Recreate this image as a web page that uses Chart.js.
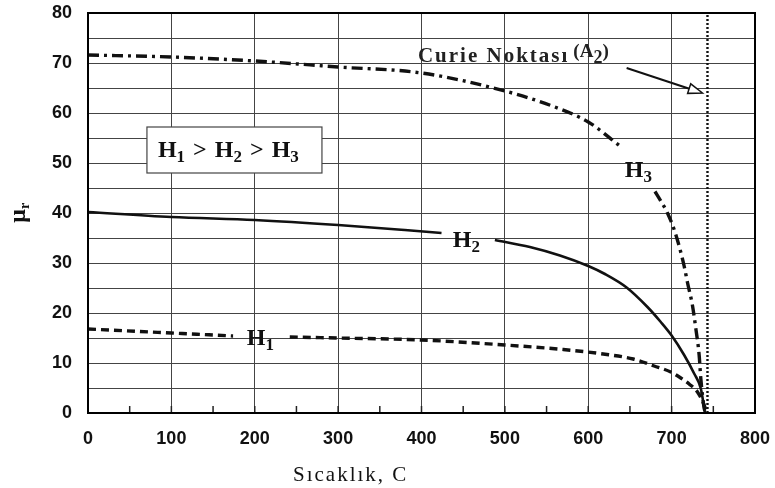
<!DOCTYPE html>
<html><head><meta charset="utf-8">
<script src="https://cdn.jsdelivr.net/npm/chart.js@4/dist/chart.umd.min.js"></script>
<style>html,body{margin:0;padding:0;background:#fff;}canvas{display:block;}</style>
</head><body>
<canvas id="c" width="775" height="488"></canvas>
<script>
const xTicks = [0,100,200,300,400,500,600,700,800];
const yTicks = [0,10,20,30,40,50,60,70,80];
const h3Temps  = [0,100,200,300,400,500,560,600,638,660,680,687,695,703,709,715,719,725,729,733,735,739,741];
const h3Values = [71.6,71.2,70.4,69.2,68,64.4,61.2,58.2,53.4,null,44.3,42.4,40,36.7,33.4,29.4,26.1,21.5,16.9,11.6,6.9,1,0];
const h2Temps  = [0,100,200,300,380,424,456,488,530,566,600,620,646,671,687,700,715,727,735,740];
const h2Values = [40.2,39.2,38.6,37.6,36.6,36,null,34.6,33.2,31.5,29.4,27.8,25.1,21.2,18.2,15.5,11.6,7.9,4.9,0];
const h1Temps  = [0,100,174,210,242,300,400,500,570,618,654,679,699,711,721,731,739,742];
const h1Values = [16.8,16,15.4,null,15.2,15,14.6,13.6,12.7,11.8,10.8,9.4,8.2,7,5.8,4.2,1.6,0];
const curieTemp = 743;
const curieRange = [0,80];
const seriesNames = ['H1','H2','H3'];

const toPts = (xs, ys) => xs.map((x,i)=>({x:x,y:ys[i]}));

const annot = {
  id:'annot',
  beforeInit(chart){ chart.ctx.letterSpacing = '1px'; },
  afterDraw(chart){
    const ctx = chart.ctx, xs = chart.scales.x, ys = chart.scales.y;
    const a = chart.chartArea;
    ctx.save();
    ctx.letterSpacing = '0px';
    // minor tick marks along bottom axis (every 50)
    ctx.strokeStyle = '#222'; ctx.lineWidth = 1.5;
    for (let v = 50; v < 800; v += 50) {
      const px = xs.getPixelForValue(v);
      ctx.beginPath(); ctx.moveTo(px, a.bottom); ctx.lineTo(px, a.bottom - 7); ctx.stroke();
    }
    // frame
    ctx.strokeStyle = '#000'; ctx.lineWidth = 2;
    ctx.strokeRect(a.left, a.top, a.right - a.left, a.bottom - a.top);

    const P = (x,y)=>[xs.getPixelForValue(x), ys.getPixelForValue(y)];
    const sub = (base, s, x, y, size) => {
      ctx.font = 'bold ' + size + 'px "Liberation Serif"';
      ctx.textBaseline = 'alphabetic'; ctx.textAlign = 'left';
      ctx.fillText(base, x, y);
      const w = ctx.measureText(base).width;
      ctx.font = 'bold ' + Math.round(size*0.7) + 'px "Liberation Serif"';
      ctx.fillText(s, x + w, y + size*0.2);
      return w + ctx.measureText(s).width;
    };
    ctx.fillStyle = '#111';
    // series labels
    let p = P(190.4,13.6); sub('H', '1', p[0], p[1], 24);
    p = P(437.6,33.2); sub('H', '2', p[0], p[1], 24);
    p = P(643.9,47.2); sub('H', '3', p[0], p[1], 24);

    // box "H1 > H2 > H3"
    const b0 = P(70.7,57.2), b1 = P(280.6,48);
    ctx.fillStyle = '#fff';
    ctx.fillRect(b0[0], b0[1], b1[0]-b0[0], b1[1]-b0[1]);
    ctx.strokeStyle = '#444'; ctx.lineWidth = 1.2;
    ctx.strokeRect(b0[0], b0[1], b1[0]-b0[0], b1[1]-b0[1]);
    ctx.fillStyle = '#111';
    let tx = b0[0] + 11, ty = b0[1] + 30;
    const gap = 8;
    tx += sub('H','1',tx,ty,24) + gap;
    ctx.font = 'bold 24px "Liberation Serif"'; ctx.fillText('>', tx, ty); tx += ctx.measureText('>').width + gap;
    tx += sub('H','2',tx,ty,24) + gap;
    ctx.font = 'bold 24px "Liberation Serif"'; ctx.fillText('>', tx, ty); tx += ctx.measureText('>').width + gap;
    sub('H','3',tx,ty,24);

    // Curie label
    p = P(395.7,70.2);
    ctx.letterSpacing = '2px';
    ctx.font = 'bold 21px "Liberation Serif"'; ctx.fillStyle = '#222'; ctx.textAlign='left'; ctx.textBaseline='alphabetic';
    ctx.fillText('Curie Noktası', p[0], p[1]);
    let w = ctx.measureText('Curie Noktası').width + 4;
    ctx.letterSpacing = '0px';
    ctx.font = 'bold 19px "Liberation Serif"';
    ctx.fillText('(A', p[0]+w, p[1]-5);
    let w2 = ctx.measureText('(A').width;
    ctx.font = 'bold 18px "Liberation Serif"';
    ctx.fillText('2', p[0]+w+w2, p[1]+1);
    let w3 = ctx.measureText('2').width;
    ctx.font = 'bold 19px "Liberation Serif"';
    ctx.fillText(')', p[0]+w+w2+w3, p[1]-5);

    // arrow
    const s = P(646,69.0), e = P(737,64.0);
    ctx.strokeStyle = '#111'; ctx.lineWidth = 2;
    const ang = Math.atan2(e[1]-s[1], e[0]-s[0]);
    ctx.beginPath(); ctx.moveTo(s[0], s[1]); ctx.lineTo(e[0]-13*Math.cos(ang), e[1]-13*Math.sin(ang)); ctx.stroke();
    ctx.beginPath();
    ctx.moveTo(e[0], e[1]);
    ctx.lineTo(e[0]-14*Math.cos(ang)+5*Math.sin(ang), e[1]-14*Math.sin(ang)-5*Math.cos(ang));
    ctx.lineTo(e[0]-14*Math.cos(ang)-5*Math.sin(ang), e[1]-14*Math.sin(ang)+5*Math.cos(ang));
    ctx.closePath();
    ctx.fillStyle = '#fff'; ctx.fill(); ctx.lineWidth = 1.5; ctx.stroke();

    // axis titles
    ctx.fillStyle = '#111';
    ctx.letterSpacing = '2px';
    ctx.font = '21px "Liberation Serif"'; ctx.textAlign = 'left'; ctx.textBaseline = 'alphabetic';
    ctx.fillText('Sıcaklık, C', 293, 481);
    ctx.letterSpacing = '0px';
    ctx.save();
    ctx.translate(19, 213); ctx.rotate(-Math.PI/2);
    ctx.textAlign = 'center'; ctx.textBaseline = 'middle';
    ctx.font = 'bold 24px "Liberation Serif"';
    ctx.fillText('μ', -3, 0);
    ctx.font = 'bold 14px "Liberation Serif"';
    ctx.fillText('r', 7, 6);
    ctx.restore();
    ctx.restore();
  }
};

new Chart(document.getElementById('c'), {
  type: 'line',
  data: {
    datasets: [
      { label: seriesNames[2], data: toPts(h3Temps,h3Values), borderColor:'#111', borderWidth:3.4, borderDash:[11,5,3,5], pointRadius:0, cubicInterpolationMode:'monotone', spanGaps:false, fill:false },
      { label: seriesNames[1], data: toPts(h2Temps,h2Values), borderColor:'#111', borderWidth:2.6, pointRadius:0, cubicInterpolationMode:'monotone', spanGaps:false, fill:false },
      { label: seriesNames[0], data: toPts(h1Temps,h1Values), borderColor:'#111', borderWidth:3.4, borderDash:[8,5], pointRadius:0, cubicInterpolationMode:'monotone', spanGaps:false, fill:false },
      { label: 'Curie', data: curieRange.map(v=>({x:curieTemp,y:v})), borderColor:'#111', borderWidth:2.4, borderDash:[2,2], pointRadius:0, fill:false }
    ]
  },
  options: {
    responsive:false, animation:false,
    layout:{ padding:{ left:0, right:20, top:13, bottom:0 } },
    plugins:{ legend:{display:false}, tooltip:{enabled:false} },
    scales:{
      x:{ type:'linear', min:0, max:800,
          afterBuildTicks(s){ s.ticks = xTicks.map(v=>({value:v})); },
          afterFit(s){ s.height = 75; s.paddingLeft = 0; s.paddingRight = 0; },
          grid:{ color:'#444', lineWidth:1, drawTicks:false },
          border:{ display:false },
          ticks:{ color:'#111', font:{family:'"Liberation Sans"', size:18, weight:'bold'}, padding:15, maxRotation:0 } },
      y:{ min:0, max:80,
          afterBuildTicks(s){ const t=[]; for(let v=0; v<=80; v+=5) t.push({value:v}); s.ticks=t; },
          afterFit(s){ s.width = 88; s.paddingTop = 0; s.paddingBottom = 0; },
          grid:{ color:'#444', lineWidth:1, drawTicks:false },
          border:{ display:false },
          ticks:{ color:'#111', font:{family:'"Liberation Sans"', size:18, weight:'bold'}, padding:16,
                  callback:(v)=> yTicks.includes(v) ? String(v) : '' } }
    }
  },
  plugins:[annot]
});
</script>
</body></html>
